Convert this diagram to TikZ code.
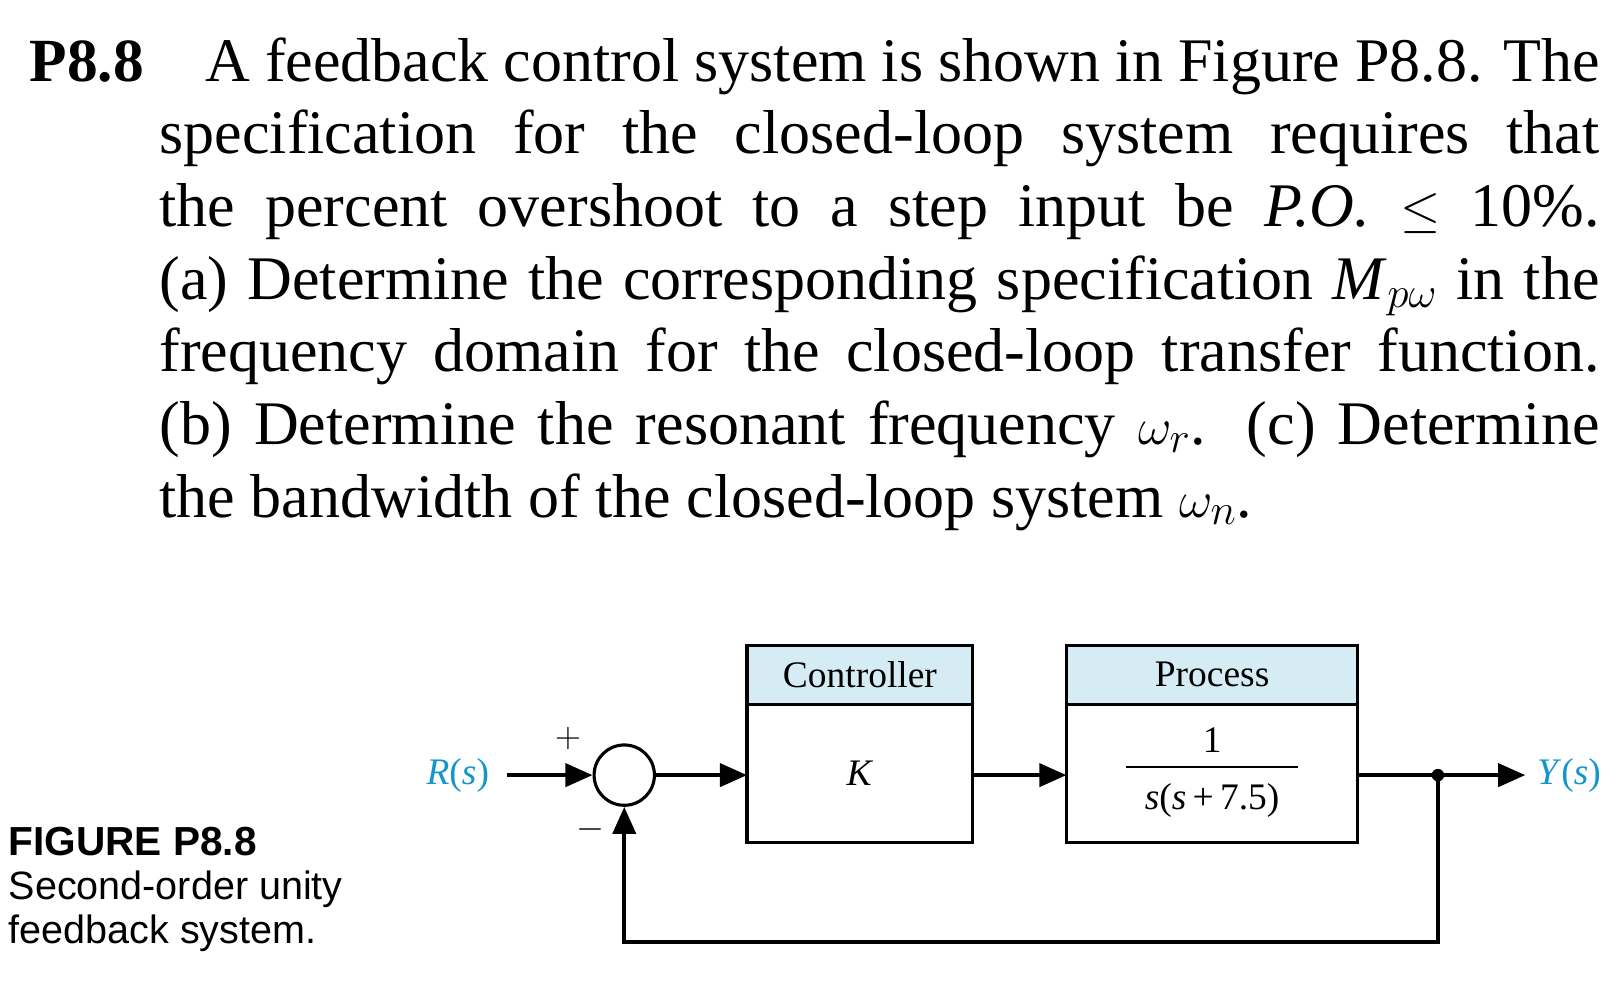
\documentclass[tikz,border=0pt]{standalone}
\usepackage{fontspec}
\setmainfont{Liberation Serif}
\newfontfamily\sansf{Liberation Sans}
\usetikzlibrary{arrows.meta}
\definecolor{hdr}{RGB}{214,236,244}
\definecolor{sig}{RGB}{20,150,205}
\begin{document}
\begin{tikzpicture}[x=0.5pt,y=-0.5pt,
  body/.style={anchor=base west,inner sep=0,font=\fontsize{29.8}{35}\selectfont},
  captxt/.style={anchor=base west,inner sep=0,font=\sansf\fontsize{19}{21}\selectfont},
  lbl/.style={inner sep=0,font=\fontsize{18}{20}\selectfont},
  sl/.style={lbl,text=sig},
  wire/.style={line width=2pt},
  arr/.style={wire,-{Triangle[length=13pt,width=11pt]}},
  blk/.style={line width=1.5pt}]
\useasboundingbox (0,0) rectangle (1558,961);
\fill[white] (0,0) rectangle (1558,961);
% text
\node[body,font=\bfseries\fontsize{29.5}{35}\selectfont] (p) at (28,78) {P8.8};
\node[body] (l1) at (197,78) {\makebox[670pt][s]{A feedback control system is shown in Figure P8.8. The}};
\node[body] (l2) at (153,148) {\makebox[692pt][s]{specification for the closed-loop system requires that}};
\node[body] (l3) at (153,218) {\makebox[692pt][s]{the percent overshoot to a step input be \textit{P.O.} $\le$ 10\%.}};
\node[body] (l4) at (153,288) {\makebox[692pt][s]{(a) Determine the corresponding specification \textit{M}$_{p\omega}$ in the}};
\node[body] (l5) at (153,357) {\makebox[692pt][s]{frequency domain for the closed-loop transfer function.}};
\node[body] (l6) at (153,427) {\makebox[692pt][s]{(b) Determine the resonant frequency $\omega_r$. (c) Determine}};
\node[body] (l7) at (153,497) {the bandwidth of the closed-loop system $\omega_n$.};
% caption
\node[captxt,font=\sansf\bfseries\fontsize{19.5}{21}\selectfont] (c1) at (8,822) {FIGURE P8.8};
\node[captxt] (c2) at (8,865) {Second-order unity};
\node[captxt] (c3) at (8,907) {feedback system.};
% blocks
\fill[hdr] (718,620) rectangle (935,677);
\fill[hdr] (1025,620) rectangle (1305,677);
\draw[blk] (718,620) rectangle (935,810);
\draw[blk] (718,677) -- (935,677);
\draw[blk] (1025,620) rectangle (1305,810);
\draw[blk] (1025,677) -- (1305,677);
\node[lbl] (ch) at (826.5,648) {Controller};
\node[lbl] (ph) at (1165,648) {Process};
\coordinate (cin) at (718,745);
\coordinate (cout) at (935,745);
\coordinate (pin) at (1025,745);
\coordinate (pout) at (1305,745);
\node[lbl] (K) at (826.5,743) {\textit{K}};
\node[lbl] (num) at (1165,711) {1};
\draw[line width=0.8pt] (1082,737) -- (1248,737);
\node[lbl] (den) at (1165,769) {\textit{s}(\textit{s}\,+\,7.5)};
% sum
\node[circle,draw,line width=1.5pt,minimum size=29pt,inner sep=0] (sum) at (600,745) {};
\node[lbl] (plus) at (546,710) {$+$};
\node[lbl] (minus) at (568,797) {$-$};
\node[sl,anchor=center] (R) at (440,745) {\textit{R}(\textit{s})};
\node[sl,anchor=center] (Y) at (1508,745) {\textit{Y}(\textit{s})};
\coordinate (jn) at (1382,745);
\coordinate (fb1) at (1382,905);
\coordinate (fb2) at (600,905);
\draw[arr] (487,745) -- (sum.west);
\draw[arr] (sum.east) -- (cin);
\draw[arr] (cout) -- (pin);
\draw[arr] (pout) -- (1466,745);
\fill (jn) circle (6);
\draw[arr] (jn) -- (fb1) -- (fb2) -- (sum.south);
\end{tikzpicture}
\end{document}
